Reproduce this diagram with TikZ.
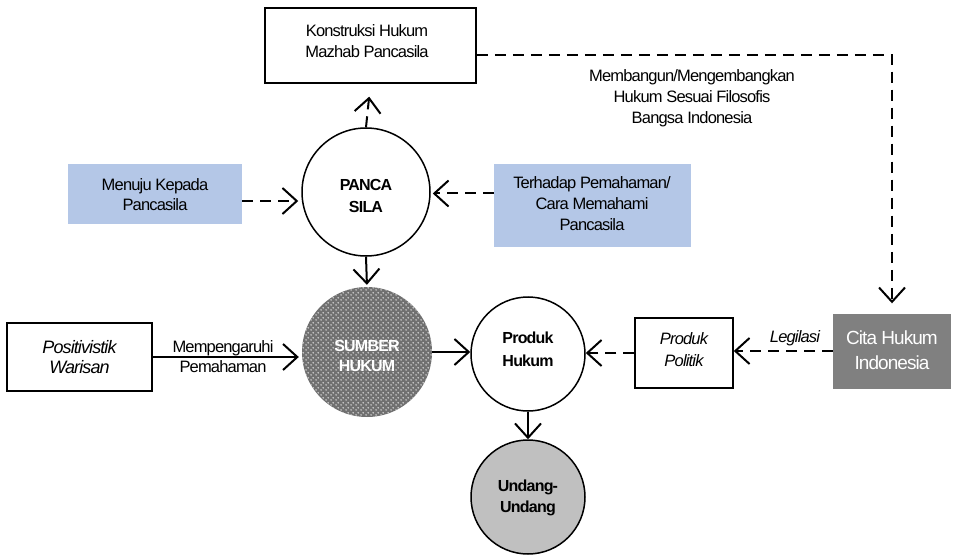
\documentclass[tikz,border=0pt]{standalone}
\usepackage{fontspec}
\setmainfont{Liberation Sans}[LetterSpace=-5]
\usetikzlibrary{arrows.meta,patterns.meta}
\definecolor{lblue}{HTML}{B4C7E7}
\definecolor{citagray}{HTML}{808080}
\definecolor{undgray}{HTML}{C0C0C0}
\definecolor{sumgray}{HTML}{707070}
\tikzdeclarepattern{name=hdots,type=uncolored,
  bounding box={(0pt,0pt) and (5pt,5pt)},tile size={(5pt,5pt)},
  code={\fill (1.25pt,1.25pt) circle (0.9pt); \fill (3.75pt,3.75pt) circle (0.9pt);}}
\tikzset{
  txt/.style={font=\fontsize{16.5}{21}\selectfont,align=center,inner sep=0pt},
  boxw/.style={draw,line width=1.5pt,inner sep=0pt},
  boxb/.style={fill=lblue,inner sep=0pt},
  circ/.style={circle,draw,line width=1.5pt,inner sep=0pt},
  arr/.style={line width=2pt,-{Straight Barb[length=11pt,width=20pt,line width=2pt,scale=1.3]}},
  darr/.style={arr,dash pattern=on 11pt off 7pt},
}
\begin{document}
\begin{tikzpicture}[x=1pt,y=-1pt]
\useasboundingbox (0,0) rectangle (953,556);
% boxes
\node[boxw,minimum width=211pt,minimum height=75pt] (konst) at (370.5,45.5) {};
\node[txt] (konstL) at (367,41) {Konstruksi Hukum\\Mazhab Pancasila};
\node[boxb,minimum width=174pt,minimum height=60pt] (menuju) at (155,194) {};
\node[txt,font=\fontsize{16.5}{20}\selectfont] (menujuL) at (155,195) {Menuju Kepada\\Pancasila};
\node[boxb,minimum width=197pt,minimum height=83pt] (terh) at (592.5,205.5) {};
\node[txt] (terhL) at (592,204) {Terhadap Pemahaman/\\Cara Memahami\\Pancasila};
\node[boxw,minimum width=145pt,minimum height=68pt] (posit) at (79.5,357) {};
\node[txt,font=\fontsize{18}{20}\selectfont\itshape] (positL) at (79.5,357) {Positivistik\\Warisan};
\node[boxw,minimum width=98pt,minimum height=70pt] (pol) at (684,353) {};
\node[txt,font=\fontsize{16.5}{22}\selectfont\itshape] (polL) at (684,350) {Produk\\Politik};
\node[fill=citagray,minimum width=118pt,minimum height=75pt,inner sep=0pt] (cita) at (892,351) {};
\node[txt,font=\fontsize{19}{25}\selectfont,text=white] (citaL) at (892,350) {Cita Hukum\\Indonesia};
% circles
\node[circ,minimum size=128pt] (panca) at (366,192) {};
\node[txt,font=\fontsize{16}{22}\selectfont\bfseries] (pancaL) at (366,196) {PANCA\\SILA};
\node[circle,inner sep=0pt,minimum size=130pt,fill=sumgray,postaction={pattern=hdots,pattern color=white!75!gray}] (sumber) at (367,352) {};
\node[txt,font=\fontsize{16}{20}\selectfont\bfseries,text=white] (sumberL) at (367,356) {SUMBER\\HUKUM};
\node[circ,minimum size=114pt] (prod) at (528,354) {};
\node[txt,font=\fontsize{16}{23}\selectfont\bfseries] (prodL) at (528,349) {Produk\\Hukum};
\node[circ,fill=undgray,minimum size=114pt] (und) at (528,497) {};
\node[txt,font=\fontsize{16}{21}\selectfont\bfseries] (undL) at (528,498) {Undang-\\Undang};
% labels
\node[txt] (memb) at (692,98) {Membangun/Mengembangkan\\Hukum Sesuai Filosofis\\Bangsa Indonesia};
\node[txt,font=\fontsize{16.5}{20}\selectfont] (memp) at (223,357) {Mempengaruhi\\Pemahaman};
\node[txt,font=\fontsize{16.5}{20}\selectfont\itshape] (leg) at (795,338) {Legilasi};
% connectors
\draw[darr,shorten >=13pt] (panca.north) -- (konst.south);
\draw[darr,shorten >=3pt] ([yshift=-7pt]menuju.east) -- ([yshift=-7pt]menuju.east -| panca.west);
\draw[darr,shorten >=2pt] ([yshift=12pt]terh.west) -- ([yshift=12pt]terh.west -| panca.east);
\draw[arr,shorten >=2pt] (panca.south) -- (sumber.north);
\draw[arr,shorten >=3pt] (posit.east) -- (posit.east -| sumber.west);
\draw[arr] (sumber.east) -- (sumber.east -| prod.west);
\draw[darr] (pol.west) -- (pol.west -| prod.east);
\draw[darr] (cita.west) -- (cita.west -| pol.east);
\draw[arr] (prod.south) -- (und.north);
\draw[darr,shorten >=10pt] ([yshift=-9.5pt]konst.east) -| (cita.north);
\end{tikzpicture}
\end{document}
